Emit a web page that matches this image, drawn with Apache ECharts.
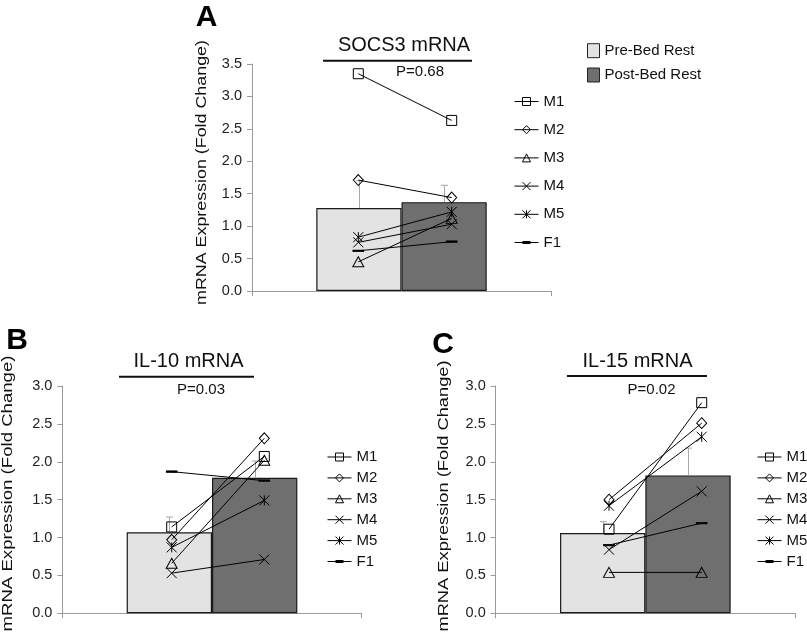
<!DOCTYPE html>
<html><head><meta charset="utf-8">
<script src="https://cdn.jsdelivr.net/npm/echarts@6/dist/echarts.min.js"></script>
<style>html,body{margin:0;padding:0;background:#fff}#c{width:807px;height:632px}</style>
</head><body><div id="c"></div>
<script>
// ---------- data ----------
const subjects = ['M1', 'M2', 'M3', 'M4', 'M5', 'F1'];
const groupNames = ['Pre-Bed Rest', 'Post-Bed Rest'];
const timeCats = ['Pre', 'Post'];

// Panel A: SOCS3 mRNA
const socs3Pre  = [3.35, 1.71, 0.45, 0.75, 0.83, 0.62];
const socs3Post = [2.63, 1.44, 1.12, 1.03, 1.22, 0.76];
const socs3Mean = [1.28, 1.37];
const socs3ErrTop = [1.70, 1.63];
const socs3P = 'P=0.68';

// Panel B: IL-10 mRNA
const il10Pre  = [1.14, 0.97, 0.66, 0.53, 0.87, 1.87];
const il10Post = [2.07, 2.31, 2.02, 0.71, 1.49, 1.75];
const il10Mean = [1.07, 1.79];
const il10ErrTop = [1.27, 2.01];
const il10P = 'P=0.03';

// Panel C: IL-15 mRNA
const il15Pre  = [1.11, 1.50, 0.54, 0.84, 1.42, 0.90];
const il15Post = [2.78, 2.51, 0.54, 1.61, 2.33, 1.19];
const il15Mean = [1.06, 1.82];
const il15ErrTop = [1.21, 2.18];
const il15P = 'P=0.02';

const yMaxA = 3.5, yMaxBC = 3.0, yStep = 0.5;
const yTitle = 'mRNA Expression (Fold Change)';

// ---------- styles / layout ----------
const FONT = 'Liberation Sans, Arial, Helvetica, sans-serif';
const AXIS_GRAY = '#9a9a9a';
const BAR_COLORS = ['#e3e3e3', '#6f6f6f'];
const BAR_W = 0.285;
const CLEAR = 'rgba(0,0,0,0)';
const symbols = {
  M1: { symbol: 'rect', size: 10, fill: CLEAR },
  M2: { symbol: 'diamond', size: [10, 11], fill: CLEAR },
  M3: { symbol: 'triangle', size: [11, 10], fill: CLEAR },
  M4: { symbol: 'path://M0,0L10,10M10,0L0,10', size: 10, fill: CLEAR },
  M5: { symbol: 'path://M0,0L10,10M10,0L0,10M5,0L5,10', size: 10, fill: CLEAR },
  F1: { symbol: 'path://M0,0L10,0L10,4L0,4Z', size: [10, 4], fill: '#000' }
};
const F1_LEGEND_ICON = 'path://M0,4.5L24,4.5L24,5.5L0,5.5Z M8,3.5L16,3.5L16,6.5L8,6.5Z';

const panels = [
  { pre: socs3Pre, post: socs3Post, mean: socs3Mean, err: socs3ErrTop, max: yMaxA,
    grid: { left: 252, top: 64, width: 299, height: 227 },
    lineGrid: { left: 358.3, width: 93.4 },
    legend: { left: 514, top: 93.5, itemGap: 12.2 } },
  { pre: il10Pre, post: il10Post, mean: il10Mean, err: il10ErrTop, max: yMaxBC,
    grid: { left: 62.3, top: 386, width: 299.4, height: 227.3 },
    lineGrid: { left: 171.7, width: 92.6 },
    legend: { left: 327, top: 449, itemGap: 4.9 } },
  { pre: il15Pre, post: il15Post, mean: il15Mean, err: il15ErrTop, max: yMaxBC,
    grid: { left: 495.7, top: 386, width: 299.3, height: 227.3 },
    lineGrid: { left: 609, width: 92.7 },
    legend: { left: 757, top: 449, itemGap: 4.9 } }
];

const grid = [], xAxis = [], yAxis = [], series = [], legend = [];

panels.forEach((p, k) => {
  const gb = grid.length;
  grid.push({ left: p.grid.left, top: p.grid.top, width: p.grid.width, height: p.grid.height });
  grid.push({ left: p.lineGrid.left, top: p.grid.top, width: p.lineGrid.width, height: p.grid.height });

  xAxis.push({
    gridIndex: gb, type: 'category', data: [''], boundaryGap: true,
    axisLine: { show: true, lineStyle: { color: AXIS_GRAY, width: 1 } },
    axisTick: { show: true, length: 5, lineStyle: { color: AXIS_GRAY } },
    axisLabel: { show: false }, splitLine: { show: false }
  });
  xAxis.push({ gridIndex: gb + 1, type: 'category', data: timeCats, boundaryGap: false, show: false });

  yAxis.push({
    gridIndex: gb, type: 'value', min: 0, max: p.max, interval: yStep,
    axisLine: { show: true, lineStyle: { color: AXIS_GRAY, width: 1 } },
    axisTick: { show: true, length: 5, lineStyle: { color: AXIS_GRAY } },
    splitLine: { show: false },
    axisLabel: { color: '#222', fontSize: 14.5, fontFamily: FONT, margin: 10,
                 formatter: v => v.toFixed(1) }
  });
  yAxis.push({ gridIndex: gb + 1, type: 'value', min: 0, max: p.max, show: false });

  groupNames.forEach((g, i) => {
    series.push({
      type: 'bar', name: g, xAxisIndex: gb, yAxisIndex: gb,
      data: [p.mean[i]], barWidth: (BAR_W * 100) + '%', barGap: '0%',
      itemStyle: { color: BAR_COLORS[i], borderColor: '#1a1a1a', borderWidth: 1.2 },
      animation: false, silent: true
    });
  });

  series.push({
    type: 'custom', name: 'err' + k, xAxisIndex: gb, yAxisIndex: gb,
    data: p.mean.map((m, i) => [0, m, p.err[i]]),
    renderItem: (params, api) => {
      const i = params.dataIndex;
      const base = api.coord([0, api.value(1)]);
      const top = api.coord([0, api.value(2)]);
      const band = api.size([1, 0])[0];
      const bw = band * BAR_W;
      const cx = Math.round(base[0] + (i === 0 ? -bw / 2 : bw / 2)) + 0.5;
      const st = { stroke: '#a8a8a8', lineWidth: 1 };
      return { type: 'group', children: [
        { type: 'line', shape: { x1: cx, y1: base[1], x2: cx, y2: top[1] }, style: st },
        { type: 'line', shape: { x1: cx - 3.5, y1: top[1], x2: cx + 3.5, y2: top[1] }, style: st }
      ]};
    },
    animation: false, silent: true, z: 3
  });

  subjects.forEach((s, i) => {
    const sy = symbols[s];
    series.push({
      type: 'line', name: s, xAxisIndex: gb + 1, yAxisIndex: gb + 1,
      data: [p.pre[i], p.post[i]],
      symbol: sy.symbol, symbolSize: sy.size, symbolKeepAspect: true,
      lineStyle: { color: '#000', width: 1 },
      itemStyle: { color: sy.fill, borderColor: '#000', borderWidth: 1 },
      animation: false, silent: true, z: 5
    });
  });

  legend.push({
    orient: 'vertical', left: p.legend.left, top: p.legend.top, itemGap: p.legend.itemGap,
    padding: 0, itemWidth: 24, itemHeight: 10, selectedMode: false,
    itemStyle: { color: CLEAR, borderColor: '#000', borderWidth: 1 },
    lineStyle: { color: '#000', width: 1 },
    textStyle: { fontSize: 15, fontFamily: FONT, color: '#111', lineHeight: 16 },
    data: subjects.map(s => s === 'F1'
      ? { name: s, icon: F1_LEGEND_ICON, itemStyle: { color: '#000', borderWidth: 0 } }
      : { name: s })
  });
});

legend.push({
  orient: 'vertical', left: 587, top: 42.7, itemGap: 8.3, padding: 0,
  itemWidth: 12, itemHeight: 14, icon: 'rect', selectedMode: false,
  itemStyle: { borderColor: '#222', borderWidth: 1 },
  textStyle: { fontSize: 15, fontFamily: FONT, color: '#111', lineHeight: 16 },
  data: groupNames
});

function txt(text, x, y, size, extra) {
  return Object.assign({
    type: 'text', x: x, y: y, silent: true,
    style: Object.assign({ text: text, fontSize: size, fontFamily: FONT, fill: '#111',
                           align: 'center', verticalAlign: 'middle' }, (extra && extra.style) || {})
  }, (extra && extra.props) || {});
}
function hline(x1, x2, y) {
  return { type: 'line', silent: true, shape: { x1: x1, y1: y, x2: x2, y2: y },
           style: { stroke: '#111', lineWidth: 2 } };
}

const graphic = [
  txt('A', 206.5, 17.5, 30, { style: { fontWeight: 'bold', fill: '#000' } }),
  txt('B', 17, 341, 30, { style: { fontWeight: 'bold', fill: '#000' } }),
  txt('C', 443, 345, 30, { style: { fontWeight: 'bold', fill: '#000' } }),
  txt('SOCS3 mRNA', 404, 45, 20),
  txt('IL-10 mRNA', 188.5, 361.5, 20),
  txt('IL-15 mRNA', 637.5, 361.5, 20),
  hline(323, 472, 60.7), hline(119, 254, 376.7), hline(567, 707, 376),
  txt(socs3P, 420, 72, 15),
  txt(il10P, 201, 389.5, 15),
  txt(il15P, 651.5, 389.5, 15),
  txt(yTitle, 202, 172.5, 15, { props: { rotation: Math.PI / 2, scaleX: 1.19 } }),
  txt(yTitle, 8, 493.5, 15.5, { props: { rotation: Math.PI / 2, scaleX: 1.20 } }),
  txt(yTitle, 444, 496, 14.5, { props: { rotation: Math.PI / 2, scaleX: 1.26 } })
];

const chart = echarts.init(document.getElementById('c'), null, { renderer: 'canvas' });
chart.setOption({
  backgroundColor: '#fff', animation: false,
  grid, xAxis, yAxis, series, legend, graphic
});
</script>
</body></html>
